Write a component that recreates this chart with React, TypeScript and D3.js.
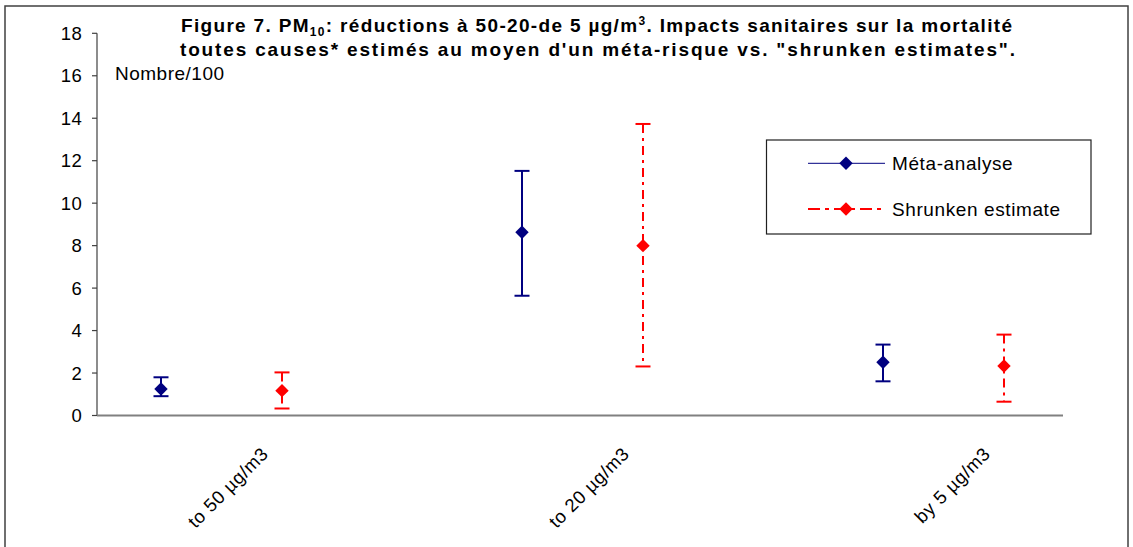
import React from "react";
import * as d3 from "d3";

const categories = ["to 50 µg/m3", "to 20 µg/m3", "by 5 µg/m3"];
const seriesNames = ["Méta-analyse", "Shrunken estimate"];
const metaCenter = [1.25, 8.63, 2.51];
const metaLow = [0.91, 5.64, 1.61];
const metaHigh = [1.8, 11.52, 3.34];
const shrunkCenter = [1.17, 8.0, 2.33];
const shrunkLow = [0.33, 2.31, 0.65];
const shrunkHigh = [2.03, 13.73, 3.81];
const yTicks = [0, 2, 4, 6, 8, 10, 12, 14, 16, 18];

const W = 1133;
const H = 547;
const FONT = "'Liberation Sans', Arial, sans-serif";

export default function App() {
  const y = d3.scaleLinear().domain([0, 18]).range([415.5, 33.3]);
  const x = d3.scalePoint<string>().domain(categories).range([221.5, 943.5]);
  const offsets = [-60.5, 60.5];
  const colors = ["#000080", "#FF0000"];
  const dashes = [undefined, "9,5,3,5"];
  const series = [
    { c: metaCenter, lo: metaLow, hi: metaHigh },
    { c: shrunkCenter, lo: shrunkLow, hi: shrunkHigh },
  ];
  const diamond = d3.symbol(d3.symbolSquare, 90)()!;
  const plotLeft = 97;
  const plotRight = 1063;

  return (
    <svg width={W} height={H} style={{ position: "absolute", left: 0, top: 0, background: "#fff" }}>
      <rect x={5} y={6} width={1123} height={560} fill="#fff" stroke="#404040" strokeWidth={1.5} />
      {/* title */}
      <text x={181} y={32} textLength={831} lengthAdjust="spacing" fontFamily={FONT} fontWeight="bold" fontSize={19} fill="#000">
        Figure 7. PM<tspan fontSize={12} dy={4}>10</tspan>
        <tspan dy={-4}>: réductions à 50-20-de 5 µg/m</tspan>
        <tspan fontSize={12} dy={-7}>3</tspan>
        <tspan dy={7}>. Impacts sanitaires sur la mortalité</tspan>
      </text>
      <text x={180} y={55.5} textLength={835} lengthAdjust="spacing" fontFamily={FONT} fontWeight="bold" fontSize={19} fill="#000">
        toutes causes* estimés au moyen d'un méta-risque vs. "shrunken estimates".
      </text>
      <text x={115} y={80} fontFamily={FONT} fontSize={19} letterSpacing={0.5} fill="#000">Nombre/100</text>
      {/* y axis */}
      <line x1={plotLeft} x2={plotLeft} y1={y(18)} y2={y(0)} stroke="#404040" strokeWidth={1.2} />
      {yTicks.map((t) => (
        <g key={t}>
          <line x1={plotLeft - 5} x2={plotLeft} y1={y(t)} y2={y(t)} stroke="#404040" strokeWidth={1.2} />
          <text x={82.5} y={y(t) + 6.5} textAnchor="end" fontFamily={FONT} fontSize={18.5} letterSpacing={0.6} fill="#000">
            {t}
          </text>
        </g>
      ))}
      {/* x axis */}
      <line x1={plotLeft} x2={plotRight} y1={y(0)} y2={y(0)} stroke="#808080" strokeWidth={2} />
      {categories.map((c) => (
        <text
          key={c}
          transform={`translate(${x(c)! + 48},455) rotate(-45)`}
          textAnchor="end"
          fontFamily={FONT}
          fontSize={18.5}
          letterSpacing={0.6}
          fill="#000"
        >
          {c}
        </text>
      ))}
      {/* error bars */}
      {series.map((s, si) =>
        categories.map((c, i) => {
          const cx = x(c)! + offsets[si];
          return (
            <g key={`${si}-${i}`}>
              <line x1={cx} x2={cx} y1={y(s.hi[i])} y2={y(s.lo[i])} stroke={colors[si]} strokeWidth={2} strokeDasharray={dashes[si]} />
              <line x1={cx - 7.5} x2={cx + 7.5} y1={y(s.hi[i])} y2={y(s.hi[i])} stroke={colors[si]} strokeWidth={2} />
              <line x1={cx - 7.5} x2={cx + 7.5} y1={y(s.lo[i])} y2={y(s.lo[i])} stroke={colors[si]} strokeWidth={2} />
              <path d={diamond} transform={`translate(${cx},${y(s.c[i])}) rotate(45)`} fill={colors[si]} />
            </g>
          );
        })
      )}
      {/* legend */}
      <rect x={766.5} y={140} width={324.5} height={94} fill="#fff" stroke="#202020" strokeWidth={1.2} />
      {seriesNames.map((n, si) => {
        const ly = si === 0 ? 163.3 : 209;
        return (
          <g key={n}>
            <line x1={808} x2={885} y1={ly} y2={ly} stroke={colors[si]} strokeWidth={si === 0 ? 1 : 2} strokeDasharray={si === 0 ? undefined : "12,5,4,5"} />
            <path d={diamond} transform={`translate(846,${ly}) rotate(45)`} fill={colors[si]} />
            <text x={892} y={ly + 6.8} fontFamily={FONT} fontSize={19} letterSpacing={0.6} fill="#000">
              {n}
            </text>
          </g>
        );
      })}
    </svg>
  );
}
